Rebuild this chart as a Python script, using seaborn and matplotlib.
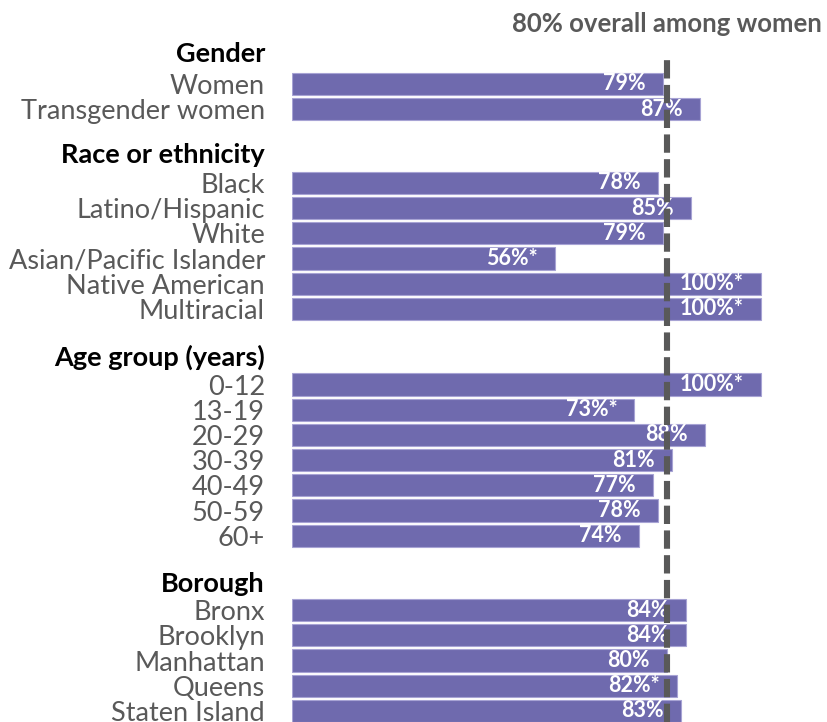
import matplotlib
matplotlib.use("Agg")
import matplotlib.pyplot as plt
import seaborn as sns
import pandas as pd

# Groups, their row labels and the percentage for each row
groups = ["Gender", "Race or ethnicity", "Age group (years)", "Borough"]
gender_labels = ["Women", "Transgender women"]
gender_values = [79, 87]
gender_flags = ["", ""]
race_labels = ["Black", "Latino/Hispanic", "White", "Asian/Pacific Islander",
               "Native American", "Multiracial"]
race_values = [78, 85, 79, 56, 100, 100]
race_flags = ["", "", "", "*", "*", "*"]
age_labels = ["0-12", "13-19", "20-29", "30-39", "40-49", "50-59", "60+"]
age_values = [100, 73, 88, 81, 77, 78, 74]
age_flags = ["*", "*", "", "", "", "", ""]
borough_labels = ["Bronx", "Brooklyn", "Manhattan", "Queens", "Staten Island"]
borough_values = [84, 84, 80, 82, 83]
borough_flags = ["", "", "", "*", ""]
overall_women = 80

# Row positions (in row units) for headers and bars
header_pos = [-1.27, 2.74, 10.75, 19.76]
group_start = [0.0, 3.93, 11.93, 20.88]

BAR = "#6f6aae"
GRAY = "#595959"

rows = []
for start, labels, values, flags in zip(
        group_start,
        [gender_labels, race_labels, age_labels, borough_labels],
        [gender_values, race_values, age_values, borough_values],
        [gender_flags, race_flags, age_flags, borough_flags]):
    for i, (lab, val, fl) in enumerate(zip(labels, values, flags)):
        rows.append({"pos": start + i, "label": lab, "value": val, "flag": fl})
df = pd.DataFrame(rows)

sns.set_theme(style="white")
plt.rcParams["font.family"] = ["Lato", "DejaVu Sans"]

fig = plt.figure(figsize=(8.28, 7.22), dpi=100)
ax = fig.add_axes([292 / 828, 0, 536 / 828, 1])

sns.barplot(data=df, x="value", y="pos", orient="h", native_scale=True,
            color=BAR, saturation=1, width=0.88, edgecolor="#a7a3d4",
            linewidth=0.8, ax=ax)

ax.set_xlim(0, 536 / 4.69)
ax.set_ylim(25.32, -3.33)

# Value labels inside the bar ends
for _, r in df.iterrows():
    ax.annotate(f"{r['value']}%{r['flag']}", xy=(r["value"], r["pos"]),
                xytext=(-12.3, 0), textcoords="offset points",
                ha="right", va="center", color="white", fontsize=15.5,
                fontweight="bold")

# Reference line for the overall rate
ax.axvline(overall_women, ymin=0, ymax=(722 - 57) / 722, color=GRAY,
           linewidth=4.4, linestyle=(0, (3.0, 1.05)), zorder=5)
fig.text(822 / 828, 1 - 24 / 722, f"{overall_women}% overall among women",
         ha="right", va="center", fontsize=18.5, fontweight="bold", color=GRAY)

# Row and header labels as y tick labels
ticks = list(df["pos"]) + header_pos
labels = list(df["label"]) + groups
ax.set_yticks(ticks)
ax.set_yticklabels(labels)
ax.tick_params(axis="y", length=0, pad=19.5, labelsize=19.5)
for t in ax.get_yticklabels():
    if t.get_text() in groups:
        t.set_color("black")
        t.set_fontweight("bold")
    else:
        t.set_color(GRAY)

ax.set_xticks([])
ax.set_xlabel("")
ax.set_ylabel("")
for s in ax.spines.values():
    s.set_visible(False)

fig.savefig("out.png", dpi=100)
